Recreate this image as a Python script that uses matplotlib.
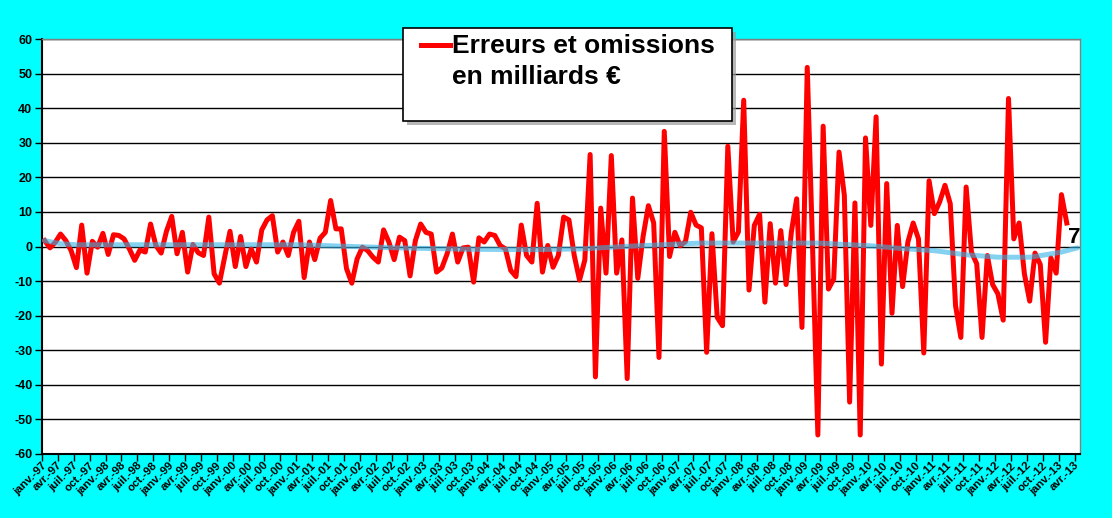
import matplotlib
matplotlib.use('Agg')
import matplotlib.pyplot as plt
from matplotlib.patches import Rectangle
from matplotlib.lines import Line2D

plt.rcParams['font.family'] = ['Liberation Sans', 'DejaVu Sans']
plt.rcParams['axes.unicode_minus'] = False

# Erreurs et omissions mensuelles, janv.-97 -> févr.-13 (milliards €)
ERREURS = [
    1.7, -0.4, 1.2, 3.6, 1.7, -1.2, -6.1, 6.2, -7.7, 1.5, -0.2, 3.8,
    -2.3, 3.4, 3.2, 2.2, -0.7, -4.0, -1.0, -1.6, 6.5, 0.3, -1.9, 4.4,
    8.7, -2.1, 4.1, -7.4, 0.6, -1.8, -2.6, 8.5, -7.9, -10.6, -3.0, 4.4,
    -5.8, 2.9, -5.8, -0.7, -4.5, 4.8, 7.7, 8.9, -1.6, 1.3, -2.6, 4.1,
    7.3, -9.0, 1.3, -3.8, 2.4, 4.1, 13.3, 5.1, 5.1, -6.4, -10.6, -3.6,
    -0.2, -1.2, -3.1, -4.5, 4.8, 1.3, -3.8, 2.7, 1.7, -8.5, 1.7, 6.5,
    4.1, 3.6, -7.4, -6.2, -2.1, 3.6, -4.5, -0.4, -0.2, -10.3, 2.5, 1.3,
    3.6, 3.2, 0.3, -0.7, -6.9, -8.7, 6.2, -2.6, -4.5, 12.5, -7.4, 0.3,
    -6.0, -2.6, 8.5, 7.7, -2.6, -9.7, -3.9, 26.6, -37.7, 11.1, -7.7, 26.3,
    -7.7, 1.9, -38.2, 14.0, -9.2, 2.9, 11.8, 6.8, -32.1, 33.3, -2.9, 4.1,
    0.2, 1.4, 9.9, 6.2, 5.4, -30.6, 3.7, -20.5, -22.9, 29.0, 1.3, 4.2,
    42.3, -12.6, 6.1, 9.3, -16.1, 6.6, -10.6, 4.6, -11.0, 4.2, 13.8, -23.4,
    51.8, 0.0, -54.5, 34.8, -12.3, -9.4, 27.3, 14.8, -45.0, 12.6, -54.5, 31.4,
    6.1, 37.5, -34.0, 18.2, -19.3, 6.1, -11.6, 1.3, 6.8, 2.2, -30.8, 19.0,
    9.5, 12.9, 17.7, 12.4, -17.1, -26.3, 17.2, -1.6, -5.0, -26.3, -2.6, -11.0,
    -13.7, -21.3, 42.8, 2.2, 6.8, -7.9, -15.8, -1.9, -5.2, -27.7, -3.3, -7.7,
    15.0, 6.8,
]

# tendance lissée (bleu clair), relevée à quelques mois
TENDANCE_IDX = [0, 3, 6, 24, 48, 58, 67, 80, 92, 101, 112, 124, 136, 146,
                156, 162, 168, 174, 180, 186, 189, 192, 195]
TENDANCE_VAL = [1.7, 0.8, 0.5, 0.5, 0.5, 0.0, -0.4, -0.8, -0.9, -0.7, 0.2, 1.0,
                1.0, 1.0, 0.2, -0.6, -1.2, -2.4, -3.1, -3.1, -2.4, -1.6, -0.4]

MOIS = ['janv.', 'avr.', 'juil.', 'oct.']
ANNEES = list(range(1997, 2014))
N_CAT = 196
LEGENDE = 'Erreurs et omissions\nen milliards €'

etiquettes = [f'{m}-{a % 100:02d}' for a in ANNEES for m in MOIS][:N_CAT // 3 + 1]

W, H = 1112, 518
fig = plt.figure(figsize=(W / 100, H / 100), dpi=100)
fig.patch.set_facecolor('#00FFFF')
ax = fig.add_axes([42 / W, 1 - 454 / H, (1080 - 42) / W, (454 - 39) / H])
ax.set_facecolor('white')

ax.set_xlim(-0.5, N_CAT - 0.5)
ax.set_ylim(-60, 60)
ax.set_yticks(range(-60, 61, 10))
ax.yaxis.grid(True, color='black', lw=1)
ax.set_axisbelow(True)

ax.plot(range(len(ERREURS)), ERREURS, color='#FF0000', lw=3.6,
        solid_joinstyle='round', zorder=3)
ax.plot(TENDANCE_IDX, TENDANCE_VAL, color='#33B5E5', lw=3.6, alpha=0.6,
        solid_capstyle='round', zorder=4)

ax.annotate(f'{ERREURS[-1]:.0f}', (len(ERREURS) - 1, ERREURS[-1]),
            xytext=(7, -15), textcoords='offset pixels', ha='center',
            va='center', fontsize=16, fontweight='bold', color='black', zorder=5)

# graduations
ax.set_xticks(range(0, N_CAT, 3))
ax.set_xticklabels(etiquettes, fontsize=8.2, fontweight='bold')
for t in ax.get_xticklabels():
    t.set_rotation(45)
    t.set_ha('right')
    t.set_va('center')
    t.set_rotation_mode('anchor')
ax.set_xticks([x - 0.5 for x in range(0, N_CAT + 1, 3)], minor=True)
ax.tick_params(axis='x', which='major', length=0, pad=7)
ax.tick_params(axis='x', which='minor', length=5, width=1, color='black')
ax.tick_params(axis='y', length=5, width=1, pad=2, labelsize=9)
for t in ax.get_yticklabels():
    t.set_fontweight('bold')

for sp in ['left', 'bottom']:
    ax.spines[sp].set_color('black')
    ax.spines[sp].set_linewidth(1.5)
for sp in ['top', 'right']:
    ax.spines[sp].set_color('#808080')
    ax.spines[sp].set_linewidth(1)


# légende dessinée à la main (boîte plus grande que le texte, avec ombre)
def fx(px):
    return px / W


def fy(py):
    return 1 - py / H


bx0, by0, bx1, by1 = 403, 28, 732, 121
fig.add_artist(Rectangle((fx(bx0 + 4), fy(by1 + 4)), fx(bx1 - bx0), (by1 - by0) / H,
                         transform=fig.transFigure, facecolor='#9a9a9a',
                         edgecolor='none', alpha=0.7, zorder=5))
fig.add_artist(Rectangle((fx(bx0), fy(by1)), fx(bx1 - bx0), (by1 - by0) / H,
                         transform=fig.transFigure, facecolor='white',
                         edgecolor='black', lw=1.2, zorder=6))
fig.add_artist(Line2D([fx(421), fx(450)], [fy(45), fy(45)], color='#FF0000',
                      lw=3.6, transform=fig.transFigure, zorder=7))
for k, ligne in enumerate(LEGENDE.split('\n')):
    fig.text(fx(452), fy(53 + 31 * k), ligne, fontsize=19, fontweight='bold',
             va='baseline', ha='left', color='black', zorder=7)

fig.savefig('out.png', dpi=100, facecolor=fig.get_facecolor())
